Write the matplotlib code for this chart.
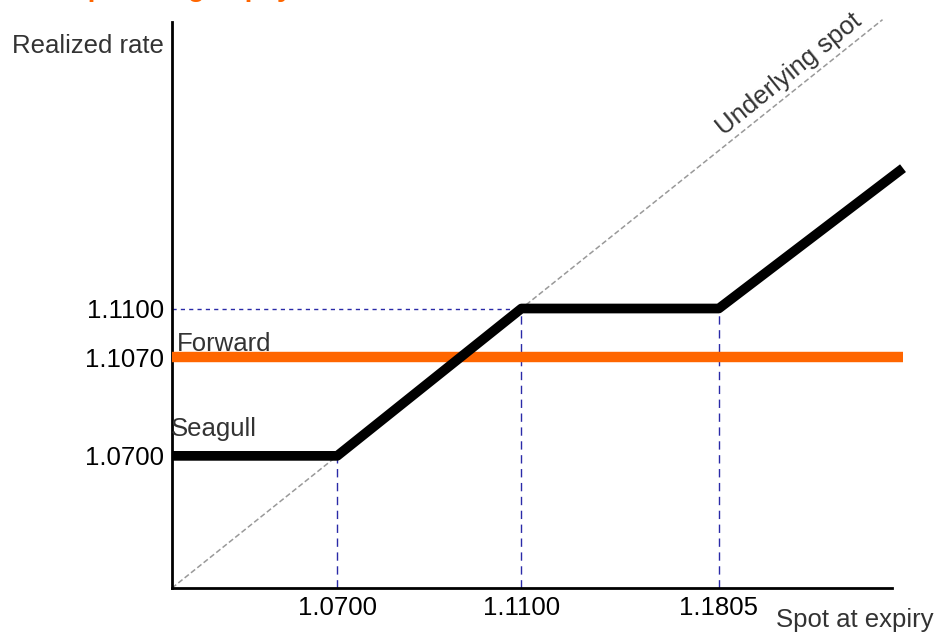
import matplotlib
matplotlib.use("Agg")
import matplotlib.pyplot as plt

plt.rcParams['font.family'] = ['Liberation Sans', 'DejaVu Sans']

# schematic units: the chart is a payoff sketch, not to scale
strike_x = [2.26, 4.78, 7.48]
strike_labels = ['1.0700', '1.1100', '1.1805']
level_y = [2.26, 3.95, 4.78]
level_labels = ['1.0700', '1.1070', '1.1100']

seagull_x = [0, 2.26, 4.78, 7.48, 10.0]
seagull_y = [2.26, 2.26, 4.78, 4.78, 7.18]
forward_y = 3.95
spot_x = [0, 9.72]
spot_y = [0, 9.72]

orange = '#ff6600'
navy = '#2a2aa8'
fs = 18.5

fig = plt.figure(figsize=(9.39, 6.34), dpi=100)
ax = fig.add_axes([172 / 939, 46 / 634, 731 / 939, 566 / 634])
ax.set_xlim(0, 10)
ax.set_ylim(0, 9.68)

# underlying spot diagonal
ax.plot(spot_x, spot_y, color='#999999', lw=1.1, ls=(0, (3.5, 1.8)), zorder=1, clip_on=False)

# guide lines to the strikes
for sx, sy in zip(strike_x, [seagull_y[1], seagull_y[2], seagull_y[3]]):
    ax.plot([sx, sx], [0, sy], color=navy, lw=1.0, ls=(0, (6, 4)), zorder=2)
ax.plot([0, strike_x[1]], [level_y[2], level_y[2]], color=navy, lw=1.0, ls=(0, (3, 3)), zorder=2)

ax.plot([0, 10], [forward_y, forward_y], color=orange, lw=7.5, solid_capstyle='butt', zorder=3, clip_on=False)
ax.plot(seagull_x, seagull_y, color='black', lw=7, solid_capstyle='butt', zorder=4, clip_on=False)

ax.text(0.07, forward_y + 0.1, 'Forward', fontsize=fs, color='#333333', va='baseline', ha='left')
ax.text(-0.02, 2.6, 'Seagull', fontsize=fs, color='#333333', va='baseline', ha='left')
ax.text(8.44, 8.79, 'Underlying spot', fontsize=fs, color='#333333', rotation=39,
        rotation_mode='anchor', ha='center', va='center')

ax.set_xticks(strike_x)
ax.set_xticklabels(strike_labels, fontsize=fs)
ax.set_yticks(level_y)
ax.set_yticklabels(level_labels, fontsize=fs)
ax.tick_params(length=0, pad=6)

for side in ['top', 'right']:
    ax.spines[side].set_visible(False)
ax.spines['left'].set_linewidth(2)
ax.spines['bottom'].set_linewidth(2)
ax.spines['bottom'].set_bounds(0, 9.85)

fig.text(164 / 939, 1 - 46 / 634, 'Realized rate', fontsize=fs, color='#333333', ha='right', va='center')
fig.text(934 / 939, 1 - 620 / 634, 'Spot at expiry', fontsize=fs, color='#333333', ha='right', va='center')
fig.text(40 / 939, 1 + 4 / 634, 'Graph: Seagull payoff', fontsize=20, color=orange,
         fontweight='bold', ha='left', va='baseline')

fig.savefig('out.png', dpi=100)
